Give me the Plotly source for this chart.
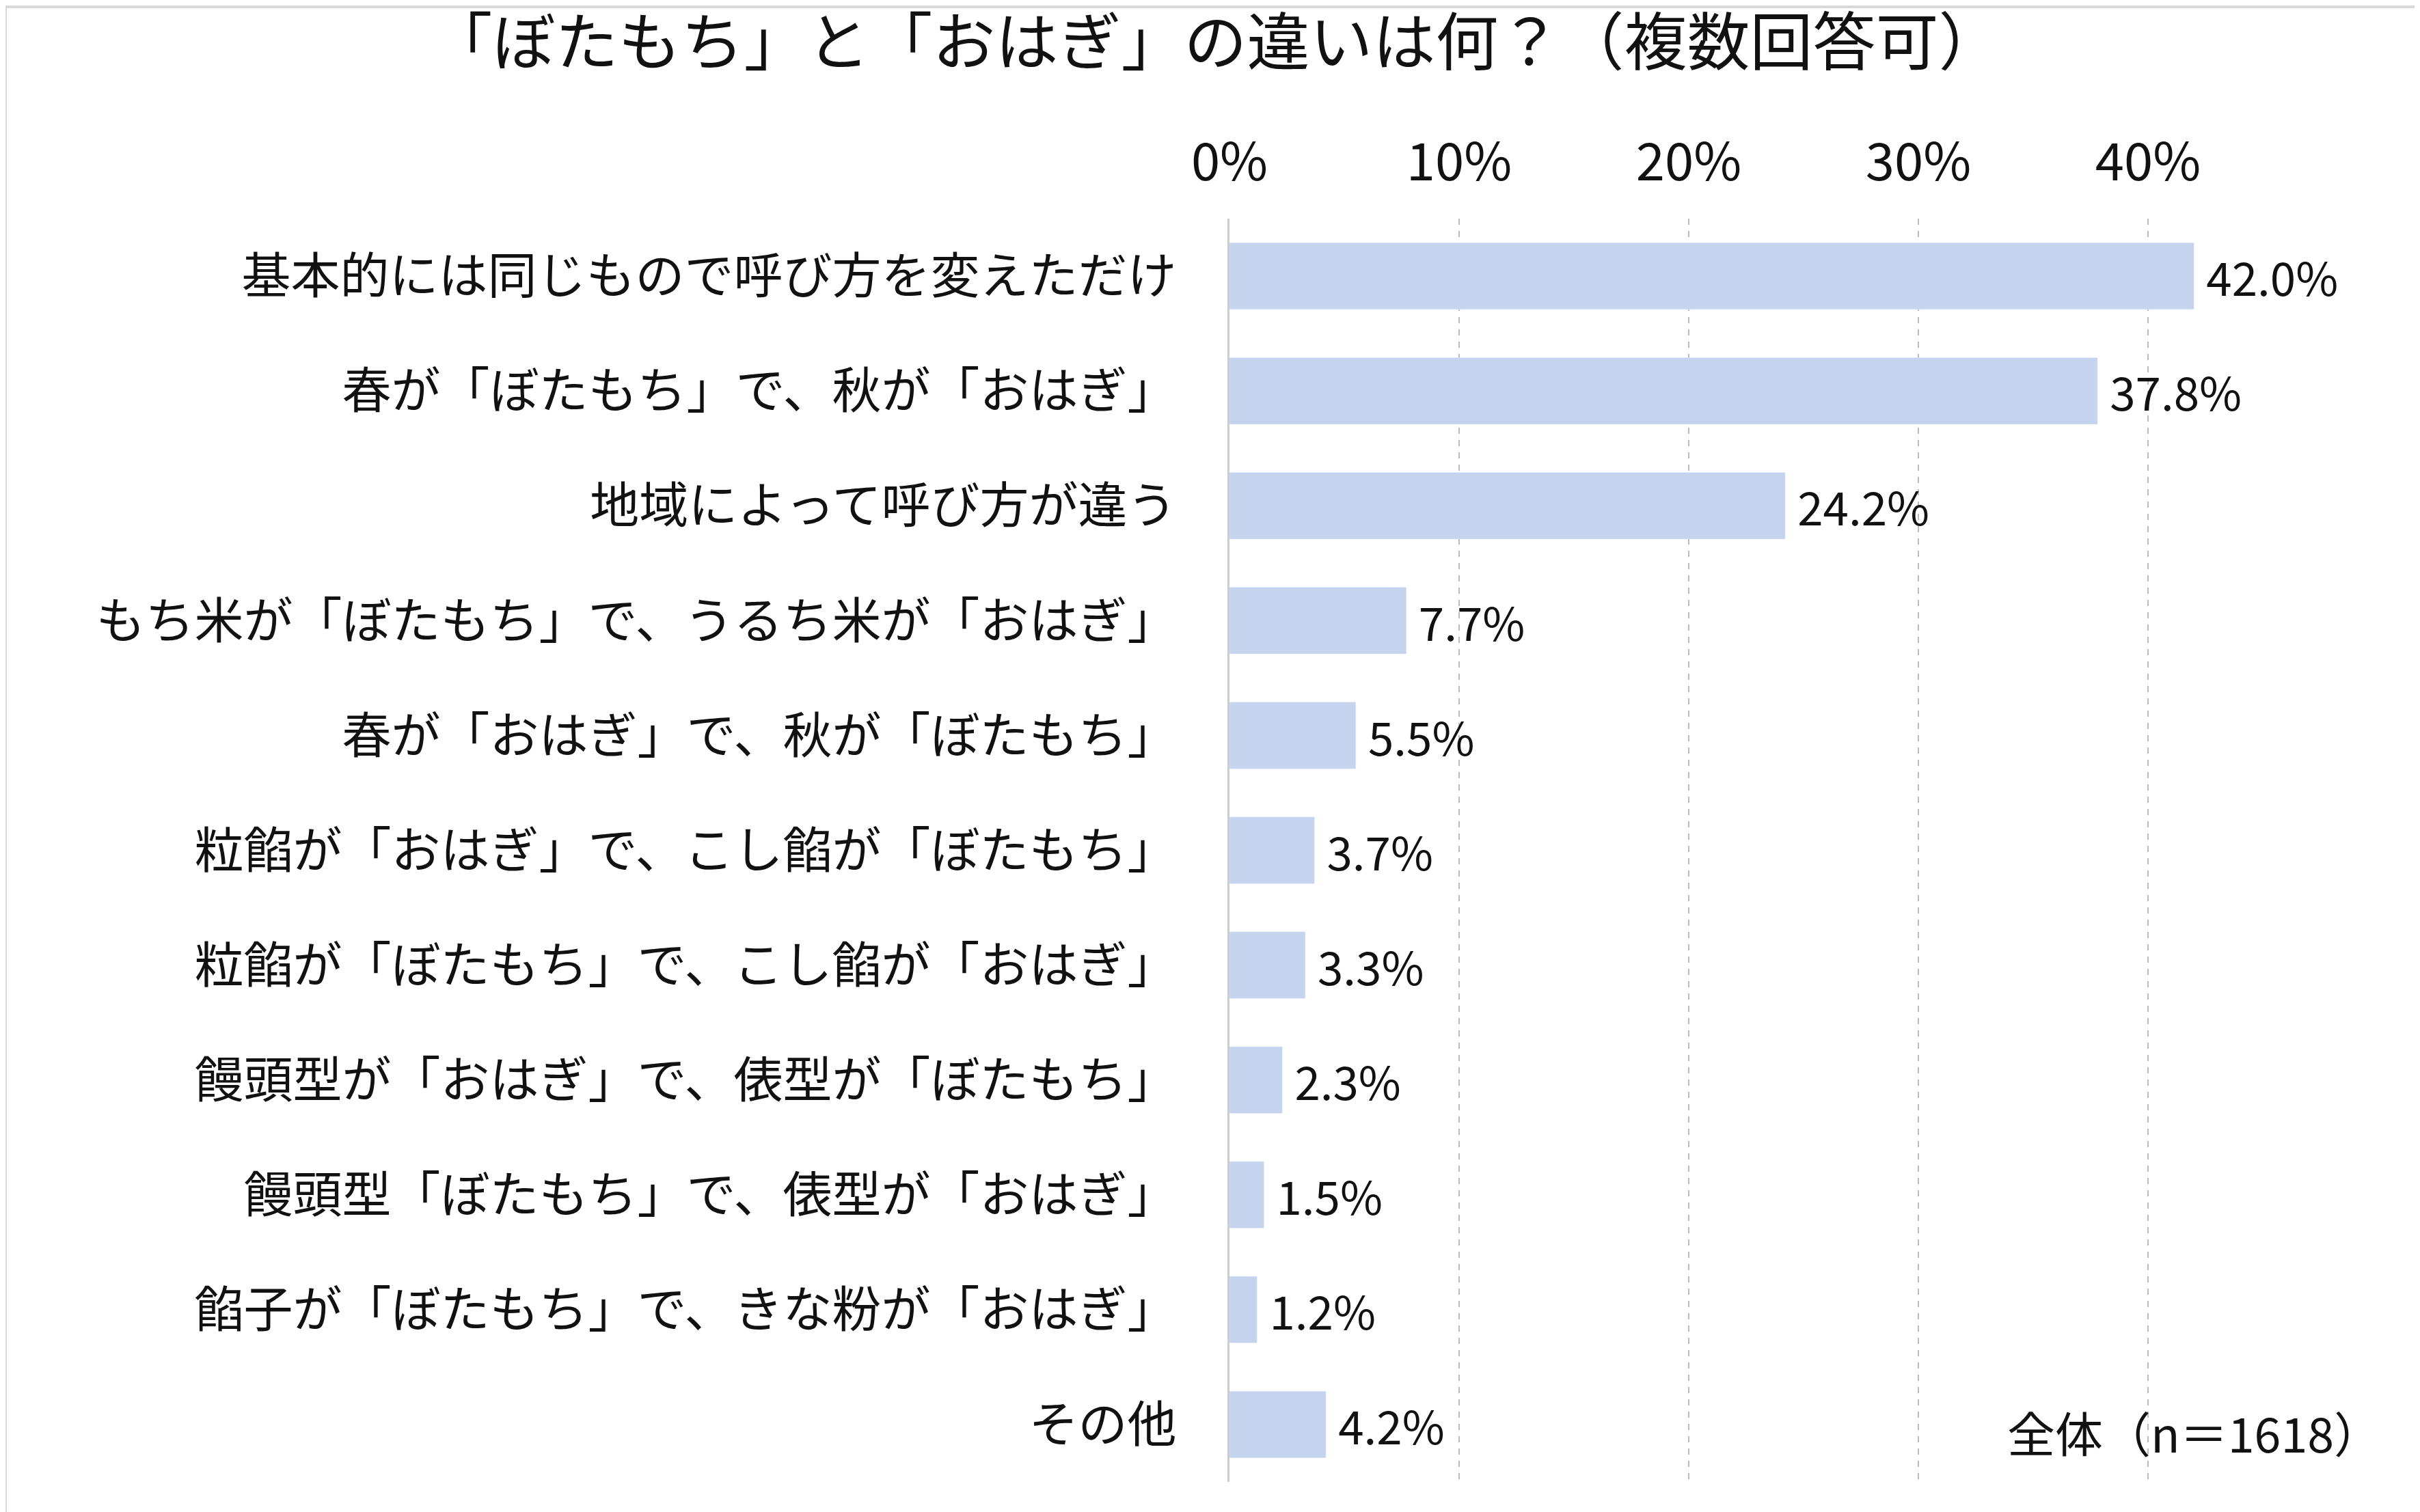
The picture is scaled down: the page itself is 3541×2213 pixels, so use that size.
import plotly.graph_objects as go

categories = [
    "基本的には同じもので呼び方を変えただけ",
    "春が「ぼたもち」で、秋が「おはぎ」",
    "地域によって呼び方が違う",
    "もち米が「ぼたもち」で、うるち米が「おはぎ」",
    "春が「おはぎ」で、秋が「ぼたもち」",
    "粒餡が「おはぎ」で、こし餡が「ぼたもち」",
    "粒餡が「ぼたもち」で、こし餡が「おはぎ」",
    "饅頭型が「おはぎ」で、俵型が「ぼたもち」",
    "饅頭型「ぼたもち」で、俵型が「おはぎ」",
    "餡子が「ぼたもち」で、きな粉が「おはぎ」",
    "その他",
]
values = [42.0, 37.8, 24.2, 7.7, 5.5, 3.7, 3.3, 2.3, 1.5, 1.2, 4.2]
tick_vals = [0, 10, 20, 30, 40, 50]

font = "Noto Sans CJK JP"

fig = go.Figure(go.Bar(
    x=values, y=categories, orientation="h",
    marker=dict(color="#c5d3ee"),
    width=0.58,
    text=[f" {v:.1f}%" for v in values],
    textposition="outside",
    textfont=dict(size=76, color="#111111"),
    cliponaxis=False,
))

fig.update_layout(
    width=3541, height=2213,
    paper_bgcolor="white", plot_bgcolor="white",
    font=dict(family=font, size=72, color="#111111"),
    title=dict(text="「ぼたもち」と「おはぎ」の違いは何？（複数回答可）",
               x=0.5, xanchor="center", y=0.99, yanchor="top",
               font=dict(size=92)),
    margin=dict(l=1791, r=70, t=312, b=52),
    showlegend=False,
    xaxis=dict(side="top", range=[0, 50], tickvals=tick_vals,
               ticktext=[f"{t}%" for t in tick_vals],
               showgrid=True, gridcolor="#bbbbbb", griddash="dash", gridwidth=2,
               zeroline=False, showline=False, ticks="", ticklabelstandoff=40,
               tickfont=dict(size=76)),
    yaxis=dict(autorange="reversed", showline=True, linecolor="#cccccc",
               linewidth=3, ticks="", ticklabelstandoff=60, tickfont=dict(size=72)),
    annotations=[dict(text="全体（n＝1618）", xref="paper", yref="paper",
                      x=1.005, y=0.04, xanchor="right", yanchor="middle",
                      showarrow=False, font=dict(size=70))],
    shapes=[dict(type="rect", xref="paper", yref="paper", x0=-1791/1680, x1=1+69/1680,
                 y0=-50/1849, y1=1+310/1849, line=dict(color="#d9d9d9", width=4))],
)

fig.write_html("out.html")
